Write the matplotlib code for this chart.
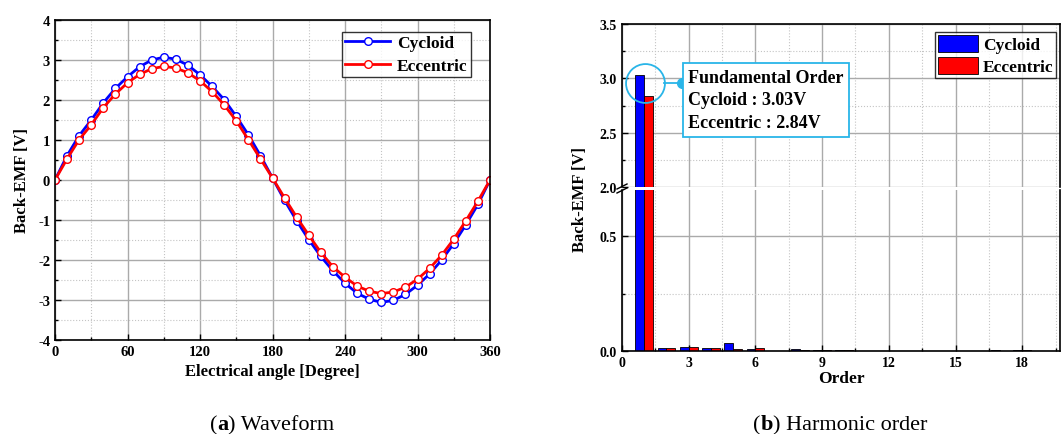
import numpy as np
import matplotlib
matplotlib.use("Agg")
import matplotlib.pyplot as plt
from matplotlib.ticker import MultipleLocator

plt.rcParams["font.family"] = ["Liberation Serif", "DejaVu Serif"]
plt.rcParams["font.weight"] = "bold"
plt.rcParams["axes.unicode_minus"] = False

# ---- data: waveform ----
angle = list(range(0, 361, 10))
cycloid_wave = [0.0, 0.61, 1.11, 1.50, 1.93, 2.29, 2.58, 2.83, 3.00, 3.07,
                3.02, 2.87, 2.63, 2.34, 2.01, 1.59, 1.13, 0.61, 0.05,
                -0.51, -1.02, -1.49, -1.91, -2.27, -2.58, -2.83, -2.98, -3.06,
                -3.01, -2.86, -2.63, -2.35, -2.00, -1.59, -1.12, -0.61, 0.0]
eccentric_wave = [0.0, 0.53, 1.01, 1.38, 1.81, 2.15, 2.43, 2.64, 2.78, 2.84,
                  2.80, 2.68, 2.48, 2.21, 1.88, 1.48, 1.01, 0.53, 0.05,
                  -0.45, -0.93, -1.38, -1.81, -2.17, -2.43, -2.65, -2.78, -2.84,
                  -2.80, -2.68, -2.48, -2.21, -1.88, -1.48, -1.02, -0.53, 0.0]

# ---- data: harmonic orders ----
orders = list(range(1, 20))
cycloid_harm = [3.03, 0.015, 0.019, 0.015, 0.034, 0.010, 0.002, 0.008, 0.005, 0.003,
                0.002, 0.001, 0.001, 0.001, 0.001, 0.002, 0.003, 0.003, 0.002]
eccentric_harm = [2.84, 0.015, 0.019, 0.012, 0.007, 0.012, 0.002, 0.006, 0.005, 0.003,
                  0.002, 0.001, 0.001, 0.001, 0.001, 0.002, 0.002, 0.003, 0.002]

W, H = 1061, 435
fig = plt.figure(figsize=(W / 100, H / 100), dpi=100)


def box(x0, y0, x1, y1):
    # pixel box (top-left origin) -> figure fraction rect
    return [x0 / W, 1 - y1 / H, (x1 - x0) / W, (y1 - y0) / H]


def style_grid(ax, labelsize):
    ax.grid(which="major", color="#aaaaaa", lw=1.0, ls="-")
    ax.grid(which="minor", color="#c4c4c4", lw=0.8, ls=":")
    ax.set_axisbelow(True)
    ax.tick_params(which="both", direction="in", labelsize=labelsize, width=1)
    ax.tick_params(which="major", length=4)
    ax.tick_params(which="minor", length=2)
    for s in ax.spines.values():
        s.set_linewidth(1.2)


# ---------------- (a) waveform ----------------
ax1 = fig.add_axes(box(55, 21, 490, 341))
ax1.plot(angle, cycloid_wave, "-o", color="blue", lw=2, ms=5.5,
         mfc="white", mew=1, label="Cycloid")
ax1.plot(angle, eccentric_wave, "-o", color="red", lw=2, ms=5.5,
         mfc="white", mew=1, label="Eccentric")
ax1.set_xlim(0, 360)
ax1.set_ylim(-4, 4)
ax1.xaxis.set_major_locator(MultipleLocator(60))
ax1.xaxis.set_minor_locator(MultipleLocator(30))
ax1.yaxis.set_major_locator(MultipleLocator(1))
ax1.yaxis.set_minor_locator(MultipleLocator(0.5))
style_grid(ax1, 10.5)
ax1.set_xlabel("Electrical angle [Degree]", fontsize=12, fontweight="bold")
ax1.set_ylabel("Back-EMF [V]", fontsize=12, fontweight="bold", labelpad=6)
leg = ax1.legend(loc="upper right", fontsize=12.5, frameon=True, fancybox=False,
                 edgecolor="black", borderpad=0.2, handlelength=2.6,
                 handletextpad=0.4, labelspacing=0.35, borderaxespad=0,
                 bbox_to_anchor=(0.957, 0.963))
leg.get_frame().set_linewidth(1)

# ---------------- (b) harmonic order ----------------
ax_top = fig.add_axes(box(622, 25, 1060, 188))
ax_bot = fig.add_axes(box(622, 191, 1060, 352))
x = np.array(orders)
for ax in (ax_top, ax_bot):
    ax.bar(x - 0.2, cycloid_harm, width=0.4, color="blue", edgecolor="black",
           lw=0.6, label="Cycloid")
    ax.bar(x + 0.2, eccentric_harm, width=0.4, color="red", edgecolor="black",
           lw=0.6, label="Eccentric")
    ax.set_xlim(0, 19.7)
    ax.xaxis.set_major_locator(MultipleLocator(3))
    ax.xaxis.set_minor_locator(MultipleLocator(1.5))
    style_grid(ax, 10)

ax_top.set_ylim(2.0, 3.5)
ax_top.yaxis.set_major_locator(MultipleLocator(0.5))
ax_top.yaxis.set_minor_locator(MultipleLocator(0.25))
ax_top.yaxis.set_major_formatter(plt.FormatStrFormatter("%.1f"))
ax_top.spines["bottom"].set_visible(False)
ax_top.tick_params(axis="x", which="both", bottom=False, labelbottom=False)

ax_bot.set_ylim(0, 0.7)
ax_bot.set_yticks([0.0, 0.5])
ax_bot.yaxis.set_minor_locator(MultipleLocator(0.25))
ax_bot.yaxis.set_major_formatter(plt.FormatStrFormatter("%.1f"))
ax_bot.spines["top"].set_visible(False)
ax_bot.set_xlabel("Order", fontsize=12.5, fontweight="bold", labelpad=1)

# break marks on the left spine
for dy in (-2, 2):
    fig.lines.append(plt.Line2D([617 / W, 627 / W],
                                [1 - (189.5 + dy + 2.5) / H, 1 - (189.5 + dy - 2.5) / H],
                                color="black", lw=1, transform=fig.transFigure))

fig.text(580 / W, 1 - 200 / H, "Back-EMF [V]", rotation=90, ha="center",
         va="center", fontsize=12, fontweight="bold")

leg2 = ax_top.legend(loc="upper right", fontsize=12.5, frameon=True, fancybox=False,
                     edgecolor="black", borderpad=0.15, handlelength=2.3,
                     handleheight=1.15, handletextpad=0.3, labelspacing=0.2,
                     borderaxespad=0, bbox_to_anchor=(0.991, 0.951))
leg2.get_frame().set_linewidth(1)

# annotation: fundamental order
cyan = "#29b5e8"
ax_top.plot([1.05], [2.96], "o", ms=28, mfc="none", mec=cyan, mew=1.3, clip_on=False)
ax_top.plot([1.9, 2.7], [2.96, 2.96], color=cyan, lw=1.3)
ax_top.plot([2.7], [2.96], "o", ms=7, color=cyan)
ax_top.text(2.98, 3.09, "Fundamental Order\nCycloid : 3.03V\nEccentric : 2.84V",
            fontsize=13, fontweight="bold", va="top", ha="left", linespacing=1.45,
            bbox=dict(boxstyle="square,pad=0.3", fc="white", ec=cyan, lw=1.3))


# ---------------- captions ----------------
def caption(xc, parts):
    texts = []
    for s, wt in parts:
        texts.append(fig.text(0, 1 - 430 / H, s, fontsize=16, fontweight=wt,
                              family=["Liberation Serif"]))
    fig.canvas.draw()
    r = fig.canvas.get_renderer()
    widths = [tt.get_window_extent(r).width for tt in texts]
    xs = xc - sum(widths) / 2
    for tt, w in zip(texts, widths):
        tt.set_position((xs / W, 1 - 430 / H))
        xs += w


caption(272, [("(", "normal"), ("a", "bold"), (") Waveform", "normal")])
caption(840, [("(", "normal"), ("b", "bold"), (") Harmonic order", "normal")])

fig.savefig("out.png", dpi=100)
